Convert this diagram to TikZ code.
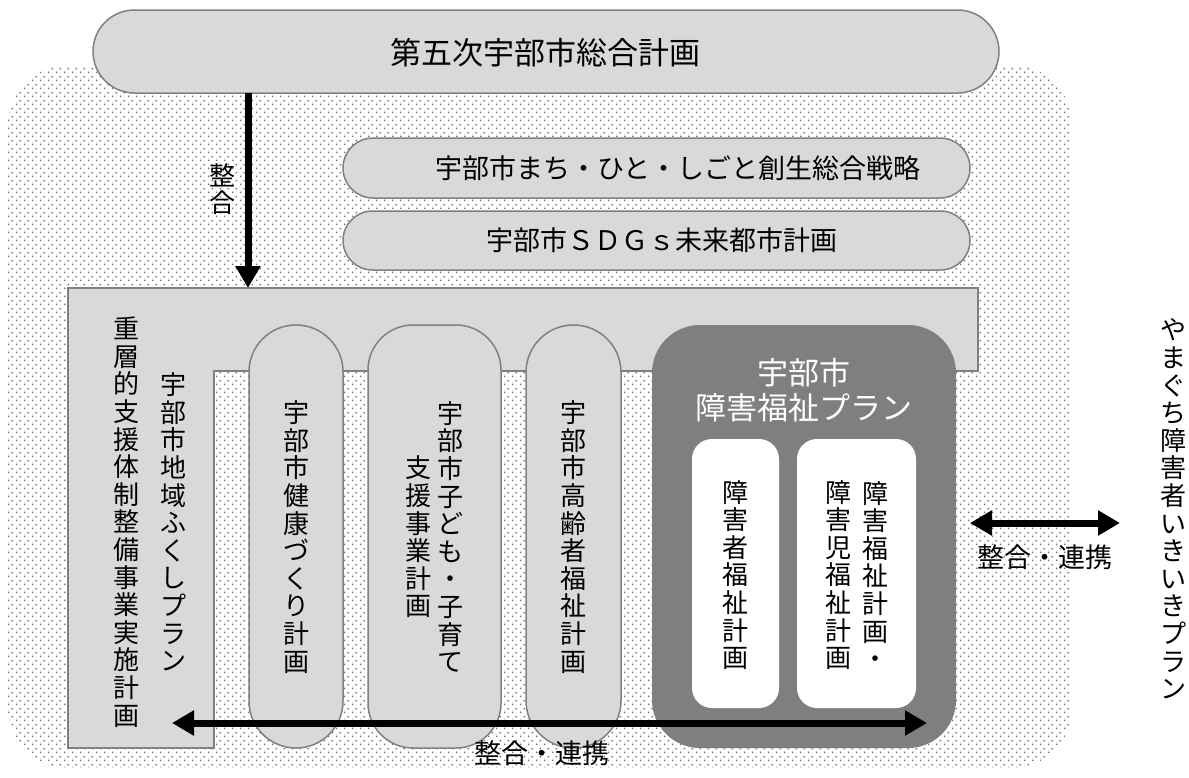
\documentclass[tikz,border=0pt]{standalone}
\usepackage{fontspec}
\setmainfont{Noto Sans CJK JP}
\usetikzlibrary{patterns.meta,arrows.meta}
\tikzdeclarepattern{
  name=bgdots,
  type=uncolored,
  bounding box={(0pt,0pt) and (7.5pt,8pt)},
  tile size={(7.5pt,8pt)},
  code={
    \pgfpathcircle{\pgfpoint{1.9pt}{2pt}}{1.0pt}
    \pgfpathcircle{\pgfpoint{5.65pt}{6pt}}{1.0pt}
    \pgfusepath{fill}
  }
}
\definecolor{boxgray}{HTML}{D9D9D9}
\definecolor{edgegray}{HTML}{808080}
\definecolor{darkbox}{HTML}{7F7F7F}
\definecolor{dotgray}{HTML}{666666}
\tikzset{
  panel/.style={fill=boxgray, draw=edgegray, line width=1.5pt},
  vtext/.style={align=center, inner sep=0pt, font=\fontsize{26}{27.6}\selectfont},
  htext/.style={inner sep=0pt, font=\fontsize{27}{30}\selectfont},
  bigarrow/.style={line width=7pt, -{Triangle[length=22pt,width=24pt]}},
  dblarrow/.style={line width=7pt, {Triangle[length=22pt,width=24pt]}-{Triangle[length=22pt,width=24pt]}},
}
\begin{document}
\begin{tikzpicture}[x=1pt,y=-1pt]
\useasboundingbox (0,0) rectangle (1189,777);
\fill[white] (0,0) rectangle (1189,777);
% dotted background
\fill[pattern=bgdots, pattern color=dotgray, rounded corners=60] (8,65) rectangle (1072,768);
% top plans
\draw[panel, rounded corners=41.5] (93,10) rectangle (999,93);
\draw[panel, rounded corners=30] (343,138) rectangle (970,198);
\draw[panel, rounded corners=29.5] (343,211) rectangle (970,270);
% frame
\draw[panel] (68,288) -- (978,288) -- (978,371) -- (214,371) -- (214,748) -- (68,748) -- cycle;
% vertical pills
\draw[panel, rounded corners=46.9] (249,325) rectangle (343,748);
\draw[panel, rounded corners=45] (368,325) rectangle (501,748);
\draw[panel, rounded corners=47.4] (526,325) rectangle (621,748);
% disability plan
\fill[darkbox, rounded corners=48] (652,325) rectangle (956,748);
\fill[white, rounded corners=20] (692,439) rectangle (779,708);
\fill[white, rounded corners=20] (797,439) rectangle (916,708);
% texts
\node[htext, font=\fontsize{31}{34}\selectfont] (title) at (545,53) {第五次宇部市総合計画};
\node[htext] (machi) at (678,168) {宇部市まち・ひと・しごと創生総合戦略};
\node[htext] (sdgs) at (662,240) {宇部市ＳＤＧｓ未来都市計画};
\node[vtext] (seigo1) at (222,189) {整\\合};
\node[vtext] (juso) at (126,522) {重\\層\\的\\支\\援\\体\\制\\整\\備\\事\\業\\実\\施\\計\\画};
\node[vtext] (chiiki) at (173,522) {宇\\部\\市\\地\\域\\ふ\\く\\し\\プ\\ラ\\ン};
\node[vtext] (kenko) at (296,537) {宇\\部\\市\\健\\康\\づ\\く\\り\\計\\画};
\node[vtext] (kodomo1) at (450,537) {宇\\部\\市\\子\\ど\\も\\・\\子\\育\\て};
\node[vtext] (kodomo2) at (418,537) {支\\援\\事\\業\\計\\画};
\node[vtext] (koreisha) at (573,537) {宇\\部\\市\\高\\齢\\者\\福\\祉\\計\\画};
\node[align=center, inner sep=0pt, text=white, font=\fontsize{31}{35}\selectfont] (shogai) at (804,390) {宇部市\\障害福祉プラン};
\node[vtext] (shogaisha) at (735,575) {障\\害\\者\\福\\祉\\計\\画};
\node[vtext] (shogai2a) at (875,575) {障\\害\\福\\祉\\計\\画\\・};
\node[vtext] (shogai2b) at (838,575) {障\\害\\児\\福\\祉\\計\\画};
\node[vtext] (yamaguchi) at (1173,509) {や\\ま\\ぐ\\ち\\障\\害\\者\\い\\き\\い\\き\\プ\\ラ\\ン};
\node[htext] (renkei1) at (542,753) {整合・連携};
\node[htext] (renkei2) at (1045,557) {整合・連携};
% arrows
\coordinate (dnA) at (248,93);
\coordinate (dnB) at (248,288);
\coordinate (hA) at (172,723);
\coordinate (hB) at (927,723);
\coordinate (rA) at (970,523);
\coordinate (rB) at (1120,523);
\draw[bigarrow] (dnA) -- (dnB);
\draw[dblarrow] (hA) -- (hB);
\draw[dblarrow] (rA) -- (rB);
\end{tikzpicture}
\end{document}
